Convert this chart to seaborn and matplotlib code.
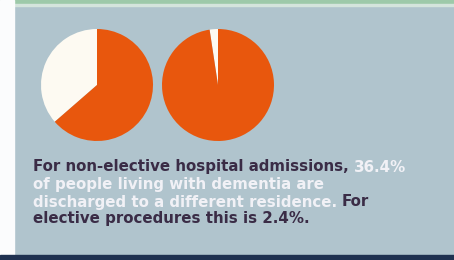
import matplotlib
matplotlib.use("Agg")
import matplotlib.pyplot as plt
from matplotlib.patches import Rectangle
import seaborn as sns

# ---- data ----
pie_labels = ["Non-elective", "Elective"]
discharged_pct = [36.4, 2.4]          # % discharged to a different residence
text_lines = [
    [("For non-elective hospital admissions,", "dark"), ("36.4%", "light")],
    [("of people living with dementia are", "light")],
    [("discharged to a different residence.", "light"), ("For", "dark")],
    [("elective procedures this is 2.4%.", "dark")],
]

sns.set_theme(style="white")
plt.rcParams["font.family"] = ["DejaVu Sans"]

W, H = 454, 260
fig = plt.figure(figsize=(W / 100, H / 100), dpi=100)
fig.patch.set_facecolor("#b0c4cd")

def px_rect(x0, y0, x1, y1, color):
    fig.patches.append(Rectangle((x0 / W, 1 - y1 / H), (x1 - x0) / W, (y1 - y0) / H,
                                 transform=fig.transFigure, color=color, zorder=0))

px_rect(0, 0, W, 4, "#9dc9a9")
px_rect(0, 4, W, 6, "#d4e4dc")
px_rect(0, 0, 14, H, "#fbfcfd")
px_rect(0, 255, W, H, "#1f3150")

ORANGE = "#e8570d"
CREAM = "#fdfaf2"
palette = [CREAM, ORANGE]

centers = [(97, 85), (218, 85)]
R = 56
for (cx, cy), pct in zip(centers, discharged_pct):
    ax = fig.add_axes([(cx - R) / W, 1 - (cy + R) / H, 2 * R / W, 2 * R / H])
    ax.pie([pct, 100 - pct], colors=palette, startangle=90, counterclock=True,
           wedgeprops=dict(linewidth=0))
    ax.set_xlim(-1, 1)
    ax.set_ylim(-1, 1)
    ax.set_axis_off()

colors = {"dark": "#3a2c46", "light": "#f1f1f6"}
baselines = [171.5, 189, 206.5, 223.5]
FS = 10.8
for line, by in zip(text_lines, baselines):
    prev = None
    for seg, c in line:
        if prev is None:
            prev = fig.text(33 / W, 1 - by / H, seg, color=colors[c], fontsize=FS,
                            fontweight="bold", va="baseline", ha="left")
        else:
            prev = plt.annotate(seg, xy=(1, 0), xycoords=prev, xytext=(3.5, 0),
                                textcoords="offset points", color=colors[c],
                                fontsize=FS, fontweight="bold", va="bottom", ha="left",
                                annotation_clip=False)

fig.savefig("out.png", dpi=100, facecolor=fig.get_facecolor())
